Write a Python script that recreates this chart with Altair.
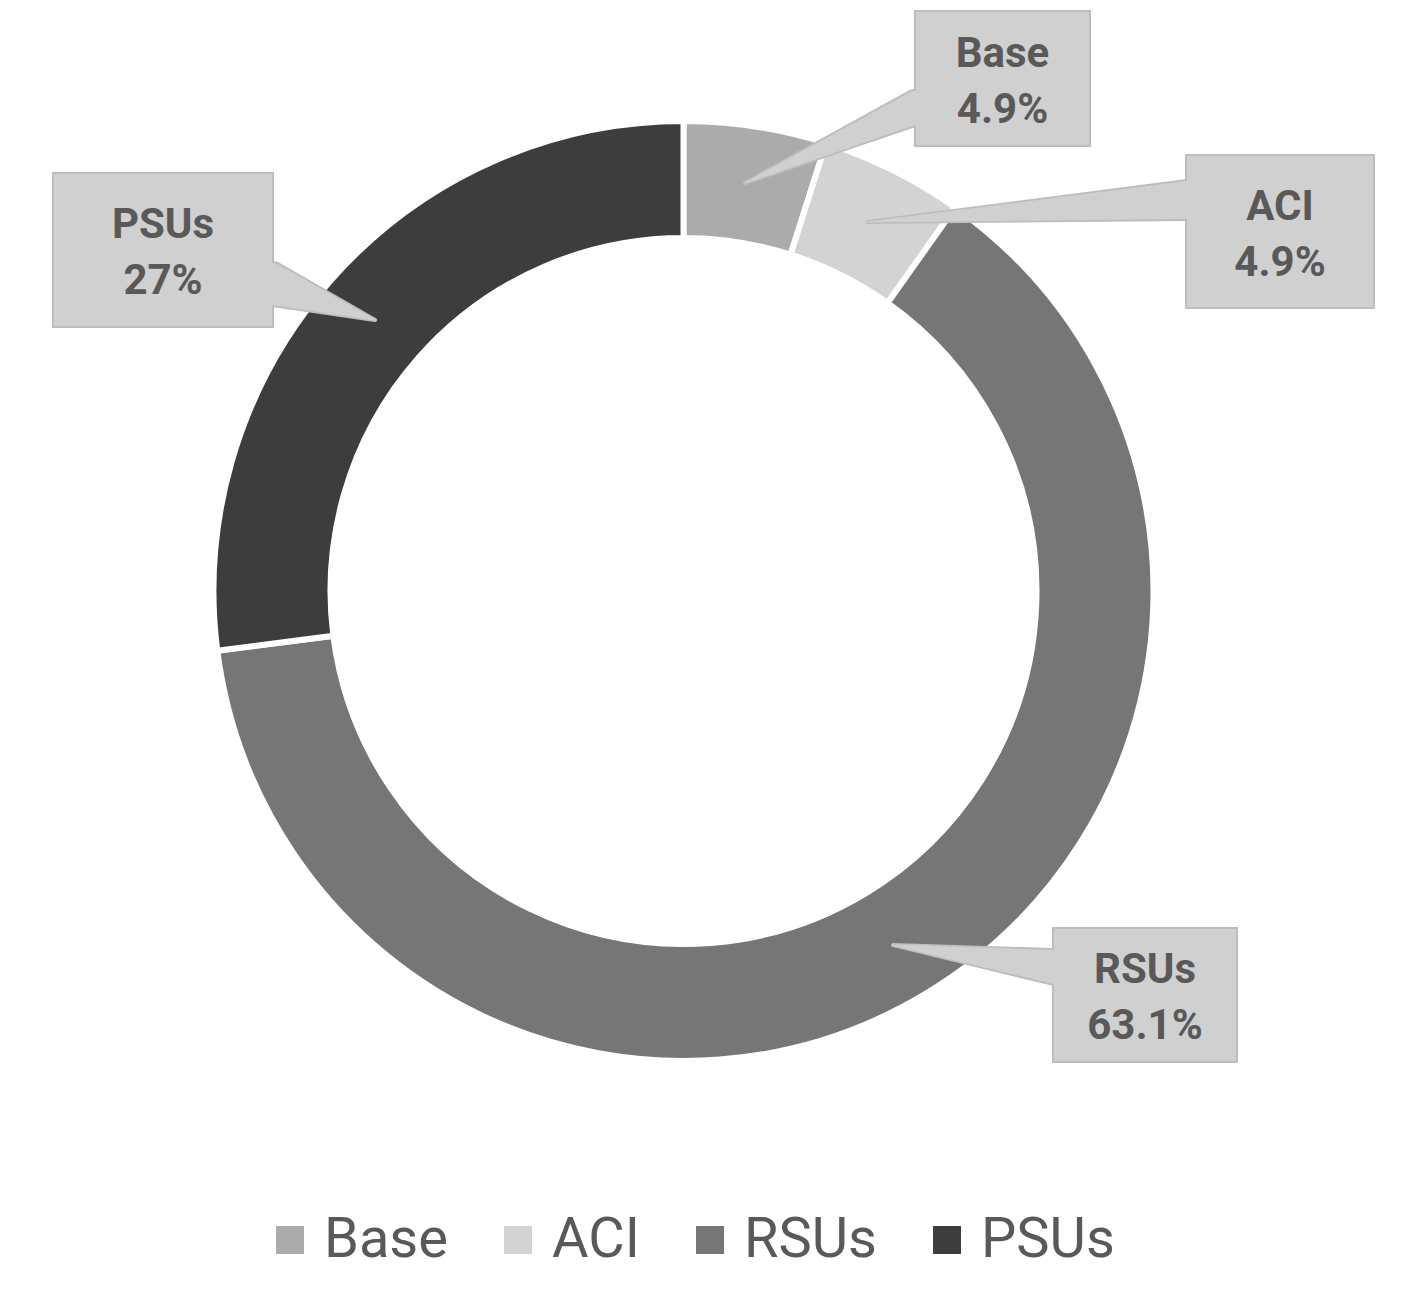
import altair as alt
import pandas as pd

# ---- data ----
categories = ["Base", "ACI", "RSUs", "PSUs"]
shares = [4.9, 4.9, 63.1, 27.0]
pct_labels = ["4.9%", "4.9%", "63.1%", "27%"]
colors = ["#ababab", "#d3d3d3", "#767676", "#3d3d3d"]

# callout boxes (page pixel coordinates)
box_x0 = [915, 1186, 1053, 53]
box_x1 = [1090, 1374, 1237, 273]
box_y0 = [11, 155, 928, 173]
box_y1 = [146, 308, 1062, 327]
# callout pointers
ptr_base_x = [917, 1188, 1055, 271]
ptr_base_y = [107, 200, 967, 284]
ptr_width = [33, 38, 34, 42]
ptr_tip_x = [745, 868, 893, 375]
ptr_tip_y = [183, 222, 945, 320]

W, H = 1388, 1278

pie_df = pd.DataFrame({"cat": categories, "share": shares, "idx": list(range(len(categories)))})

box_df = pd.DataFrame({
    "cat": categories, "x0": box_x0, "x1": box_x1, "y0": box_y0, "y1": box_y1,
    "pct": pct_labels,
})
box_df["xc"] = (box_df["x0"] + box_df["x1"]) / 2
box_df["yc"] = (box_df["y0"] + box_df["y1"]) / 2
box_df["y_name"] = box_df["yc"] - 25
box_df["y_pct"] = box_df["yc"] + 31

rows = []
for i, c in enumerate(categories):
    rows.append({"cat": c, "seq": 0, "x": ptr_base_x[i], "y": ptr_base_y[i], "w": ptr_width[i]})
    rows.append({"cat": c, "seq": 1, "x": ptr_tip_x[i], "y": ptr_tip_y[i], "w": 0})
ptr_df = pd.DataFrame(rows)
ptr_df["wb"] = ptr_df["w"] + 4

xs = alt.Scale(domain=[8, 8 + W], nice=False, zero=False)
ys = alt.Scale(domain=[8, 8 + H], nice=False, zero=False, reverse=True)

donut = alt.Chart(pie_df).mark_arc(stroke="white", strokeWidth=6).encode(
    theta=alt.Theta("share:Q", stack=True),
    order=alt.Order("idx:Q"),
    color=alt.Color(
        "cat:N",
        scale=alt.Scale(domain=categories, range=colors),
        legend=alt.Legend(
            orient="none", legendX=254, legendY=1204, direction="horizontal",
            title=None, symbolType="square", symbolSize=784, symbolStrokeWidth=0,
            symbolOpacity=1, labelFontSize=56, labelFont="Roboto", labelColor="#595959",
            labelOffset=6, columnPadding=42, padding=0, labelLimit=0,
        ),
    ),
    x=alt.value(683.5 - 8),
    y=alt.value(591 - 8),
    radius=alt.value(470),
    radius2=alt.value(353),
)

ptr_border = alt.Chart(ptr_df).mark_trail(color="#bdbdbd").encode(
    x=alt.X("x:Q", scale=xs, axis=None),
    y=alt.Y("y:Q", scale=ys, axis=None),
    size=alt.Size("wb:Q", scale=None),
    detail="cat:N",
    order="seq:Q",
)

boxes = alt.Chart(box_df).mark_rect(fill="#d0d0d0", stroke="#bdbdbd", strokeWidth=2).encode(
    x=alt.X("x0:Q", scale=xs, axis=None),
    x2="x1:Q",
    y=alt.Y("y0:Q", scale=ys, axis=None),
    y2="y1:Q",
)

ptr_fill = alt.Chart(ptr_df).mark_trail(color="#d0d0d0").encode(
    x=alt.X("x:Q", scale=xs, axis=None),
    y=alt.Y("y:Q", scale=ys, axis=None),
    size=alt.Size("w:Q", scale=None),
    detail="cat:N",
    order="seq:Q",
)

txt_style = dict(font="Roboto", fontWeight="bold", fontSize=42, color="#595959",
                 align="center", baseline="middle")
name_txt = alt.Chart(box_df).mark_text(**txt_style).encode(
    x=alt.X("xc:Q", scale=xs, axis=None),
    y=alt.Y("y_name:Q", scale=ys, axis=None),
    text="cat:N",
)
pct_txt = alt.Chart(box_df).mark_text(**txt_style).encode(
    x=alt.X("xc:Q", scale=xs, axis=None),
    y=alt.Y("y_pct:Q", scale=ys, axis=None),
    text="pct:N",
)

chart = alt.layer(donut, ptr_border, boxes, ptr_fill, name_txt, pct_txt).properties(
    width=W, height=H, autosize=alt.AutoSizeParams(type="none"), padding=0,
    background="white",
).configure_view(stroke=None)

chart.save("out.html", embed_options={"renderer": "svg", "actions": False})
